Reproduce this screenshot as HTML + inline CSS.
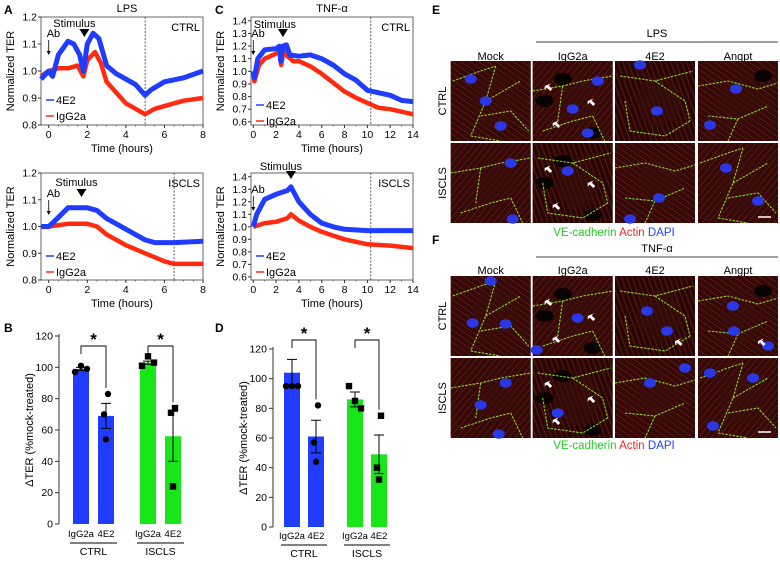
<!DOCTYPE html>
<html><head><meta charset="utf-8">
<style>
html,body{margin:0;padding:0;background:#fff;}
svg{display:block;font-family:"Liberation Sans",sans-serif;}
</style></head>
<body>
<svg id="fig" width="780" height="561" viewBox="0 0 780 561" xmlns="http://www.w3.org/2000/svg">
<defs>
<pattern id="fib1" width="5" height="5" patternUnits="userSpaceOnUse" patternTransform="rotate(35)">
<rect width="5" height="5" fill="#2a0806"/><line x1="0" y1="1" x2="5" y2="1" stroke="#a82016" stroke-width="1"/><line x1="0" y1="3.5" x2="5" y2="3.5" stroke="#5a140e" stroke-width="0.8"/>
</pattern>
<pattern id="fib2" width="5" height="5" patternUnits="userSpaceOnUse" patternTransform="rotate(-50)">
<rect width="5" height="5" fill="#2a0806"/><line x1="0" y1="1" x2="5" y2="1" stroke="#a82016" stroke-width="1"/><line x1="0" y1="3.5" x2="5" y2="3.5" stroke="#5a140e" stroke-width="0.8"/>
</pattern>
<pattern id="fib3" width="5" height="5" patternUnits="userSpaceOnUse" patternTransform="rotate(70)">
<rect width="5" height="5" fill="#220705"/><line x1="0" y1="1" x2="5" y2="1" stroke="#9a1e14" stroke-width="1"/>
</pattern>
</defs>
</svg>
<script>
// ---------- data ----------
const aTopT4E2=[-0.4,0,0.2,0.5,1,1.3,1.6,1.8,2.0,2.3,2.6,3,3.5,4,4.5,5,5.3,6,7,8];
const aTopV4E2=[0.97,1.0,0.98,1.06,1.11,1.10,1.06,1.0,1.10,1.14,1.12,1.02,0.99,0.97,0.95,0.91,0.93,0.96,0.975,1.0];
const aTopTIgG=[-0.4,0,0.5,1,1.5,1.8,2.0,2.4,2.7,3,3.5,4,4.5,5,5.5,6,7,8];
const aTopVIgG=[0.98,1.0,1.01,1.01,1.02,0.98,1.04,1.07,1.03,0.96,0.92,0.88,0.86,0.84,0.86,0.87,0.89,0.90];
const aBotT4E2=[-0.4,0,0.3,1,1.6,2,2.5,3,4,5,5.5,6.5,8];
const aBotV4E2=[1.0,1.0,1.02,1.07,1.07,1.07,1.06,1.03,0.99,0.95,0.94,0.94,0.945];
const aBotTIgG=[-0.4,0,1,2,2.5,3,4,5,6,6.5,8];
const aBotVIgG=[1.0,1.0,1.01,1.01,1.0,0.97,0.93,0.9,0.87,0.86,0.86];
const cTopT4E2=[0,0.1,0.4,1,2,2.3,2.4,2.6,2.9,3.2,4,5,6,7,8,9,10,11,12,13,14];
const cTopV4E2=[1.0,0.95,1.1,1.17,1.18,1.2,1.08,1.2,1.21,1.13,1.12,1.13,1.1,1.05,0.98,0.93,0.85,0.83,0.81,0.77,0.76];
const cTopTIgG=[0,0.1,0.5,1,2,2.3,2.45,2.7,3,3.5,4,5,6,7,8,9,10,11,12,13,14];
const cTopVIgG=[1.0,0.92,1.05,1.1,1.14,1.16,1.05,1.18,1.12,1.08,1.08,1.04,0.98,0.91,0.84,0.79,0.75,0.71,0.70,0.68,0.66];
const cBotT4E2=[0,0.3,1,2,3,3.3,4,5,6,7,8,10,12,14];
const cBotV4E2=[1.0,1.1,1.22,1.26,1.29,1.32,1.2,1.1,1.03,1.0,0.98,0.97,0.97,0.97];
const cBotTIgG=[0,1,2,3,3.3,4,5,6,7,8,10,12,14];
const cBotVIgG=[1.0,1.03,1.04,1.07,1.1,1.05,1.0,0.96,0.93,0.9,0.86,0.85,0.83];
const barCats=["IgG2a","4E2","IgG2a","4E2"];
const bMeans=[99,69,103,56];
const bErr=[1,8,1,16];
const bPts=[[97,101,99],[83,70,54],[101,107,103],[74,71,24]];
const dMeans=[104,61,86,49];
const dErr=[9,11,5,13];
const dPts=[[95,95,95],[82,57,44],[95,85,80],[75,40,32]];

const svg=document.getElementById('fig');
const NS='http://www.w3.org/2000/svg';
function mk(tag,attrs,parent){const e=document.createElementNS(NS,tag);for(const k in attrs)e.setAttribute(k,attrs[k]);(parent||svg).appendChild(e);return e;}
function txt(x,y,s,size,opt,parent){opt=opt||{};const t=mk('text',{x:x,y:y,'font-size':size,fill:opt.fill||'#000','text-anchor':opt.anchor||'start'},parent);if(opt.bold)t.setAttribute('font-weight','bold');if(opt.rot)t.setAttribute('transform','rotate(-90 '+x+' '+y+')');t.textContent=s;return t;}

// ---------- line panels ----------
function linePanel(cfg){
  const g=mk('g',{});
  
  
  const X=v=>cfg.x0+(v-cfg.xmin)/(cfg.xmax-cfg.xmin)*(cfg.x1-cfg.x0);
  const Y=v=>cfg.y1-(v-cfg.ymin)/(cfg.ymax-cfg.ymin)*(cfg.y1-cfg.y0);
  const box=mk('rect',{x:cfg.x0,y:cfg.y0,width:cfg.x1-cfg.x0,height:cfg.y1-cfg.y0,fill:'none',stroke:'#555','stroke-width':0.9},g);
  
  const dl=mk('line',{x1:X(cfg.dash),x2:X(cfg.dash),y1:cfg.y0,y2:cfg.y1,stroke:'#333','stroke-dasharray':'2,1.5','stroke-width':0.8},g);
  
  cfg.yt.forEach(v=>{mk('line',{x1:cfg.x0-3,x2:cfg.x0,y1:Y(v),y2:Y(v),stroke:'#333'},g);
    const t=txt(cfg.x0-4,Y(v)+3.5,v.toFixed(1),10.5,{anchor:'end'},g);});
  cfg.xt.forEach(v=>{mk('line',{x1:X(v),x2:X(v),y1:cfg.y1,y2:cfg.y1+3,stroke:'#333'},g);
    const t=txt(X(v),cfg.y1+13,String(v),10.5,{anchor:'middle'},g);});
  for(let v=cfg.xmin<0?0:cfg.xmin;v<=cfg.xmax;v+=cfg.minor)mk('line',{x1:X(v),x2:X(v),y1:cfg.y1,y2:cfg.y1+1.5,stroke:'#333','stroke-width':0.6},g);
  const xl=txt((cfg.x0+cfg.x1)/2,cfg.y1+27,'Time (hours)',11,{anchor:'middle'},g);
  const yl=txt(cfg.x0-27,(cfg.y0+cfg.y1)/2,'Normalized TER',11,{anchor:'middle',rot:true},g);
  [[cfg.tr,cfg.vr,'#ff2a10',4.5,'igg2a-line'],[cfg.tb,cfg.vb,'#1f3cff',5,'4e2-line']].forEach(s=>{
    const d=s[0].map((t,i)=>(i?'L':'M')+X(t).toFixed(1)+','+Y(s[1][i]).toFixed(1)).join('');
    const p=mk('path',{d:d,fill:'none',stroke:s[2],'stroke-width':s[3],'stroke-linejoin':'round'},g);
    
  });
  const ab=txt(X(0)-2,cfg.abY,'Ab',11,{},g);
  mk('line',{x1:X(0),x2:X(0),y1:cfg.abY+3,y2:cfg.abY+16,stroke:'#000','stroke-width':0.8},g);
  mk('path',{d:`M${X(0)-2},${cfg.abY+14}L${X(0)},${cfg.abY+18}L${X(0)+2},${cfg.abY+14}Z`,fill:'#000'},g);
  const st=txt(X(cfg.stim)+cfg.stimDx,cfg.stimY,'Stimulus',11,{anchor:'middle'},g);
  const tri=mk('path',{d:`M${X(cfg.stim)-5},${cfg.stimY+cfg.triDy}L${X(cfg.stim)+5},${cfg.stimY+cfg.triDy}L${X(cfg.stim)},${cfg.stimY+cfg.triDy+8}Z`,fill:'#000'},g);
  
  const cl=txt(cfg.x1-3,cfg.y0+14,cfg.cond,11,{anchor:'end'},g);
  const lg=mk('g',{},g);
  mk('line',{x1:cfg.x0+5,x2:cfg.x0+13,y1:cfg.legY,y2:cfg.legY,stroke:'#1f3cff','stroke-width':1.5},lg);
  txt(cfg.x0+15,cfg.legY+4,'4E2',11,{},lg);
  mk('line',{x1:cfg.x0+5,x2:cfg.x0+13,y1:cfg.legY+16,y2:cfg.legY+16,stroke:'#ff2a10','stroke-width':1.5},lg);
  txt(cfg.x0+15,cfg.legY+20,'IgG2a',11,{},lg);
}
linePanel({name:'panel-a-ctrl',x0:41,x1:203,y0:17,y1:125,xmin:-0.4,xmax:8,ymin:0.8,ymax:1.2,yt:[0.8,0.9,1.0,1.1,1.2],xt:[0,2,4,6,8],minor:0.5,dash:5,
 tb:aTopT4E2,vb:aTopV4E2,tr:aTopTIgG,vr:aTopVIgG,abY:37,stim:1.85,stimDx:-10,stimY:27,triDy:2,cond:'CTRL',legY:100});
linePanel({name:'panel-a-iscls',x0:41,x1:203,y0:173,y1:280,xmin:-0.4,xmax:8,ymin:0.8,ymax:1.2,yt:[0.8,0.9,1.0,1.1,1.2],xt:[0,2,4,6,8],minor:0.5,dash:6.5,
 tb:aBotT4E2,vb:aBotV4E2,tr:aBotTIgG,vr:aBotVIgG,abY:197,stim:1.7,stimDx:-5,stimY:186,triDy:3,cond:'ISCLS',legY:256});
linePanel({name:'panel-c-ctrl',x0:251,x1:413,y0:17,y1:125,xmin:-0.2,xmax:14,ymin:0.575,ymax:1.43,yt:[0.6,0.7,0.8,0.9,1.0,1.1,1.2,1.3,1.4],xt:[0,2,4,6,8,10,12,14],minor:1,dash:10.3,
 tb:cTopT4E2,vb:cTopV4E2,tr:cTopTIgG,vr:cTopVIgG,abY:37,stim:2.6,stimDx:-8,stimY:28,triDy:1,cond:'CTRL',legY:105});
linePanel({name:'panel-c-iscls',x0:251,x1:413,y0:173,y1:280,xmin:-0.2,xmax:14,ymin:0.575,ymax:1.43,yt:[0.6,0.7,0.8,0.9,1.0,1.1,1.2,1.3,1.4],xt:[0,2,4,6,8,10,12,14],minor:1,dash:10.3,
 tb:cBotT4E2,vb:cBotV4E2,tr:cBotTIgG,vr:cBotVIgG,abY:193,stim:3.3,stimDx:-10,stimY:170,triDy:1,cond:'ISCLS',legY:256});
txt(4,14,'A',12,{bold:true});txt(127,12,'LPS',11,{anchor:'middle'});
txt(215,14,'C',12,{bold:true});txt(332,12,'TNF-α',11,{anchor:'middle'});

// ---------- bar panels ----------
function barPanel(cfg,means,errs,pts){
  const g=mk('g',{});
  
  
  const Y=v=>cfg.y0-v/120*(cfg.y0-cfg.y120);
  mk('line',{x1:cfg.ax,x2:cfg.ax,y1:Y(0),y2:Y(120)-2,stroke:'#333'},g);
  [0,20,40,60,80,100,120].forEach(v=>{mk('line',{x1:cfg.ax-4,x2:cfg.ax,y1:Y(v),y2:Y(v),stroke:'#333'},g);
    const t=txt(cfg.ax-6,Y(v)+3.5,String(v),10.5,{anchor:'end'},g);});
  const yl=txt(cfg.ax-26,(Y(0)+Y(120))/2,'ΔTER (%mock-treated)',11,{anchor:'middle',rot:true},g);
  const cols=['#1f3cff','#1f3cff','#19e619','#19e619'];
  means.forEach((m,i)=>{
    const bx=cfg.bx[i];
    const r=mk('rect',{x:bx,y:Y(m),width:cfg.bw,height:Y(0)-Y(m),fill:cols[i]},g);
    
    const cx=bx+cfg.bw/2;
    mk('path',{d:`M${cx},${Y(m-errs[i])}V${Y(m+errs[i])}M${cx-5},${Y(m+errs[i])}H${cx+5}M${cx-5},${Y(m-errs[i])}H${cx+5}`,stroke:'#000','stroke-width':1,fill:'none'},g);
    pts[i].forEach((p,j)=>{
      const px=cx+(i%2?[2,-2,0][j]:(j-1)*6);
      let e;
      if(i<2) e=mk('circle',{cx:px,cy:Y(p),r:3.2,fill:'#000'},g);
      else e=mk('rect',{x:px-3.2,y:Y(p)-3.2,width:6.4,height:6.4,fill:'#000'},g);
      
    });
    const lb=txt(cx,cfg.lblY,barCats[i],9.5,{anchor:'middle'},g);
  });
  [[0,1,'CTRL'],[2,3,'ISCLS']].forEach(p=>{
    const xa=cfg.bx[p[0]]-3,xb=cfg.bx[p[1]]+cfg.bw+3;
    mk('line',{x1:xa,x2:xb,y1:cfg.lblY+6,y2:cfg.lblY+6,stroke:'#000'},g);
    const t=txt((xa+xb)/2,cfg.lblY+18,p[2],10.5,{anchor:'middle'},g);
    const c1=cfg.bx[p[0]]+cfg.bw/2,c2=cfg.bx[p[1]]+cfg.bw/2,top=cfg.brY;
    mk('path',{d:`M${c1},${top+8}V${top}H${c2}V${Y(Math.max(...pts[p[1]]))-6}`,fill:'none',stroke:'#000','stroke-width':0.9},g);
    const s=txt((c1+c2)/2,top-1,'*',17,{anchor:'middle',bold:true},g);
  });
}
barPanel({name:'panel-b',ax:59,y0:524,y120:336,bx:[73,98,140,165],bw:16,lblY:537,brY:346},bMeans,bErr,bPts);
barPanel({name:'panel-d',ax:273,y0:527,y120:349,bx:[284,308,347,371],bw:16,lblY:539,brY:340},dMeans,dErr,dPts);
txt(4,332,'B',12,{bold:true});txt(215,332,'D',12,{bold:true});

// ---------- microscopy ----------
const colX=[450.7,532.7,615,698];const W=80;
const nuclei={
 E:[
  [[20,18],[35,40],[50,65]],
  [[65,20],[40,48],[55,72]],
  [[25,4],[42,50]],
  [[38,28],[12,64]],
  [[60,20],[62,76]],
  [[35,28]],
  [[44,55],[15,76]],
  [[28,25],[60,58]]
 ],
 F:[
  [[40,5],[22,47],[55,48]],
  [[45,42],[4,74]],
  [[32,35],[52,55]],
  [[35,30],[36,55],[70,70]],
  [[55,25],[30,47],[48,76]],
  [[25,55]],
  [[35,25],[70,10]],
  [[12,15],[55,20],[15,68]]
 ]
};
const cellBorders=[
 'M2,20 L30,10 L45,5 M45,5 L35,40 L20,75 M35,40 L70,20 M30,55 L60,50 L78,70 M20,75 L50,80',
 'M0,30 L30,25 L50,20 L80,15 M10,70 L40,60 L60,55 M60,55 L72,80 M30,25 L25,60',
 'M5,15 L40,20 L78,10 M10,40 L15,70 L50,75 L75,60 M40,20 L70,40 L75,60',
 'M0,25 L30,20 L60,28 L80,22 M10,55 L40,58 L70,45 M40,58 L30,80'
];
function cellImage(x,y,i,nuc,pat,arrows,dark){
  const g=mk('g',{});
  
  
  mk('rect',{x:x,y:y,width:W,height:W,fill:'url(#'+pat+')'},g);
  mk('rect',{x:x,y:y,width:W,height:W,fill:'#2a0806','opacity':0.45},g);
  mk('ellipse',{cx:x+W*0.55,cy:y+W*0.5,rx:22,ry:26,fill:'#3a0e0a',opacity:0.5},g);
  dark.forEach(d=>mk('ellipse',{cx:x+d[0],cy:y+d[1],rx:9,ry:6,fill:'#080202'},g));
  mk('path',{d:cellBorders[i%4],transform:`translate(${x},${y})`,fill:'none',stroke:'#8ed22a','stroke-width':1.1,'stroke-dasharray':'2.5,1.2'},g);
  nuc.forEach(n=>mk('ellipse',{cx:x+n[0],cy:y+n[1],rx:6,ry:4.8,fill:'#2a38e6'},g));
  arrows.forEach(a=>{mk('path',{d:`M${x+a[0]},${y+a[1]}l6,-2.5l-2,2l3.5,3.5l-2,2l-3.5,-3.5l-2,2z`,fill:'#fff'},g);});
}
function panelGrid(key,y0,y1,legY,stim,labY,lineY){
  ['Mock','IgG2a','4E2','Angpt'].forEach((s,c)=>{const t=txt(colX[c]+W/2,labY,s,11,{anchor:'middle'});});
  const st=txt(657,lineY-5,stim,11,{anchor:'middle'});
  mk('line',{x1:536,x2:778,y1:lineY,y2:lineY,stroke:'#000','stroke-width':0.8});
  [['CTRL',y0],['ISCLS',y1]].forEach((r,ri)=>{
    const t=txt(446,r[1]+W/2,r[0],11,{anchor:'middle',rot:true});
    colX.forEach((cx,c)=>{
      const idx=ri*4+c;
      const arr=(c===1)?[[12,25],[55,40],[20,62]]:(key==='F'&&c>1&&ri===0?[[60,65]]:[]);
      const dark=(c===1)?[[12,40],[30,18],[60,72]]:(c===3&&ri===0?[[65,15]]:[]);
      cellImage(cx,r[1],c+ri,nuclei[key][idx],['fib1','fib2','fib3'][(c+ri)%3],arr,dark);
    });
  });
  mk('line',{x1:758,x2:771,y1:y1+74,y2:y1+74,stroke:'#fff','stroke-width':1.5});
  const lg=mk('text',{x:614,y:legY,'font-size':11.5,'text-anchor':'middle'});
  
  lg.innerHTML='<tspan fill="#22cc22">VE-cadherin</tspan> <tspan fill="#ff2020">Actin</tspan> <tspan fill="#2040ff">DAPI</tspan>';
}
panelGrid('E',61,143,236,'LPS',60,42);
panelGrid('F',276,358,449,'TNF-α',274,257);
txt(432,14,'E',12,{bold:true});txt(432,244,'F',12,{bold:true});
</script>
</body></html>
